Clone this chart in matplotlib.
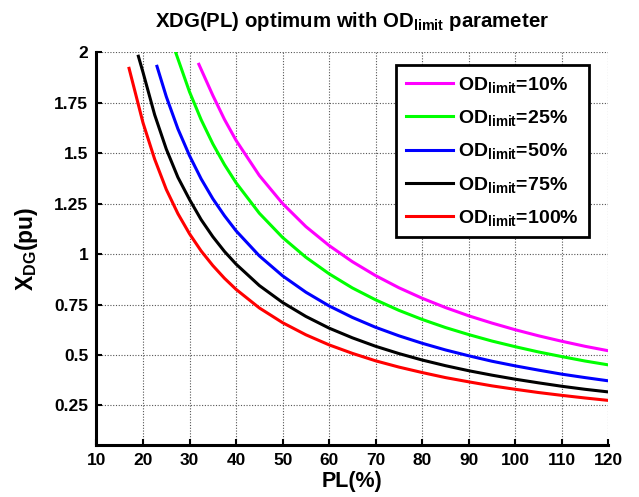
import numpy as np
import matplotlib
matplotlib.use('Agg')
import matplotlib.pyplot as plt

plt.rcParams['font.family'] = ['Liberation Sans', 'DejaVu Sans']
plt.rcParams['font.weight'] = 'bold'
plt.rcParams['mathtext.fontset'] = 'custom'
plt.rcParams['mathtext.rm'] = 'Liberation Sans:bold'
plt.rcParams['mathtext.it'] = 'Liberation Sans:bold'
plt.rcParams['mathtext.bf'] = 'Liberation Sans:bold'

# values
pl_10 = [32, 35, 37.5, 40, 45, 50, 55, 60, 65, 70, 75, 80, 85, 90, 95, 100, 105, 110, 115, 120]
xdg_10 = [1.94, 1.786, 1.667, 1.563, 1.389, 1.25, 1.136, 1.042, 0.962, 0.893, 0.833, 0.781,
          0.735, 0.694, 0.658, 0.625, 0.595, 0.568, 0.543, 0.521]

pl_25 = [27, 27.5, 30, 32.5, 35, 37.5, 40, 45, 50, 55, 60, 65, 70, 75, 80, 85, 90, 95, 100,
         105, 110, 115, 120]
xdg_25 = [2.0, 1.967, 1.803, 1.665, 1.546, 1.443, 1.353, 1.202, 1.082, 0.984, 0.902, 0.832,
          0.773, 0.721, 0.676, 0.636, 0.601, 0.569, 0.541, 0.515, 0.492, 0.47, 0.451]

pl_50 = [23, 25, 27.5, 30, 32.5, 35, 37.5, 40, 45, 50, 55, 60, 65, 70, 75, 80, 85, 90, 95,
         100, 105, 110, 115, 120]
xdg_50 = [1.93, 1.78, 1.62, 1.487, 1.372, 1.274, 1.19, 1.115, 0.991, 0.892, 0.811, 0.743,
          0.686, 0.637, 0.595, 0.558, 0.525, 0.496, 0.469, 0.446, 0.425, 0.405, 0.388, 0.372]

pl_75 = [19, 20, 22.5, 25, 27.5, 30, 32.5, 35, 37.5, 40, 45, 50, 55, 60, 65, 70, 75, 80, 85,
         90, 95, 100, 105, 110, 115, 120]
xdg_75 = [1.98, 1.9, 1.69, 1.52, 1.38, 1.27, 1.17, 1.086, 1.013, 0.95, 0.844, 0.76, 0.691,
          0.633, 0.585, 0.543, 0.507, 0.475, 0.447, 0.422, 0.40, 0.38, 0.362, 0.345, 0.33, 0.317]

pl_100 = [17, 18, 20, 22.5, 25, 27.5, 30, 32.5, 35, 37.5, 40, 45, 50, 55, 60, 65, 70, 75, 80,
          85, 90, 95, 100, 105, 110, 115, 120]
xdg_100 = [1.92, 1.83, 1.65, 1.47, 1.32, 1.20, 1.10, 1.015, 0.943, 0.88, 0.825, 0.733, 0.66,
           0.60, 0.55, 0.508, 0.471, 0.44, 0.413, 0.388, 0.367, 0.347, 0.33, 0.314, 0.30,
           0.287, 0.275]

labels = ['10%', '25%', '50%', '75%', '100%']
colors = ['#ff00ff', '#00ff00', '#0000ff', '#000000', '#ff0000']
series = [(pl_10, xdg_10), (pl_25, xdg_25), (pl_50, xdg_50), (pl_75, xdg_75), (pl_100, xdg_100)]

xticks = [10, 20, 30, 40, 50, 60, 70, 80, 90, 100, 110, 120]
yticks = [0.25, 0.5, 0.75, 1, 1.25, 1.5, 1.75, 2]
ytick_labels = ['0.25', '0.5', '0.75', '1', '1.25', '1.5', '1.75', '2']

fig = plt.figure(figsize=(6.39, 4.97), dpi=100)
ax = fig.add_axes([0.151, 0.105, 0.801, 0.79])

for (x, y), lab, c in zip(series, labels, colors):
    ax.plot(x, y, color=c, lw=2.2, label=r'OD$_{\rm limit}$=' + lab)

ax.set_xlim(10, 120)
ax.set_ylim(0.055, 2)
ax.set_xticks(xticks)
ax.set_yticks(yticks)
ax.set_yticklabels(ytick_labels)
ax.tick_params(direction='in', length=4, width=1.5, labelsize=12.5, pad=6)
for lbl in ax.get_xticklabels() + ax.get_yticklabels():
    lbl.set_fontweight('bold')

ax.grid(True, color='#555555', linestyle=(0, (1, 1.5)), linewidth=0.8)
ax.spines['top'].set_visible(False)
ax.spines['right'].set_visible(False)
ax.spines['left'].set_linewidth(2.2)
ax.spines['bottom'].set_linewidth(2.2)

ax.set_xlabel('PL(%)', fontsize=15.5, fontweight='bold', labelpad=2)
ax.set_ylabel(r'X$_{\rm DG}$(pu)', fontsize=16.5, fontweight='bold', labelpad=10)
ax.set_title(r'XDG(PL) optimum with OD$_{\rm limit}$ parameter', fontsize=14.7,
             fontweight='bold', pad=18)

leg = ax.legend(loc='upper right', bbox_to_anchor=(0.962, 0.967), fontsize=14,
                fancybox=False, framealpha=1, edgecolor='black', handlelength=2.4,
                borderpad=0.5, labelspacing=0.68, handletextpad=0.3, borderaxespad=0)
leg.get_frame().set_linewidth(2)

fig.savefig('out.png', dpi=100)
